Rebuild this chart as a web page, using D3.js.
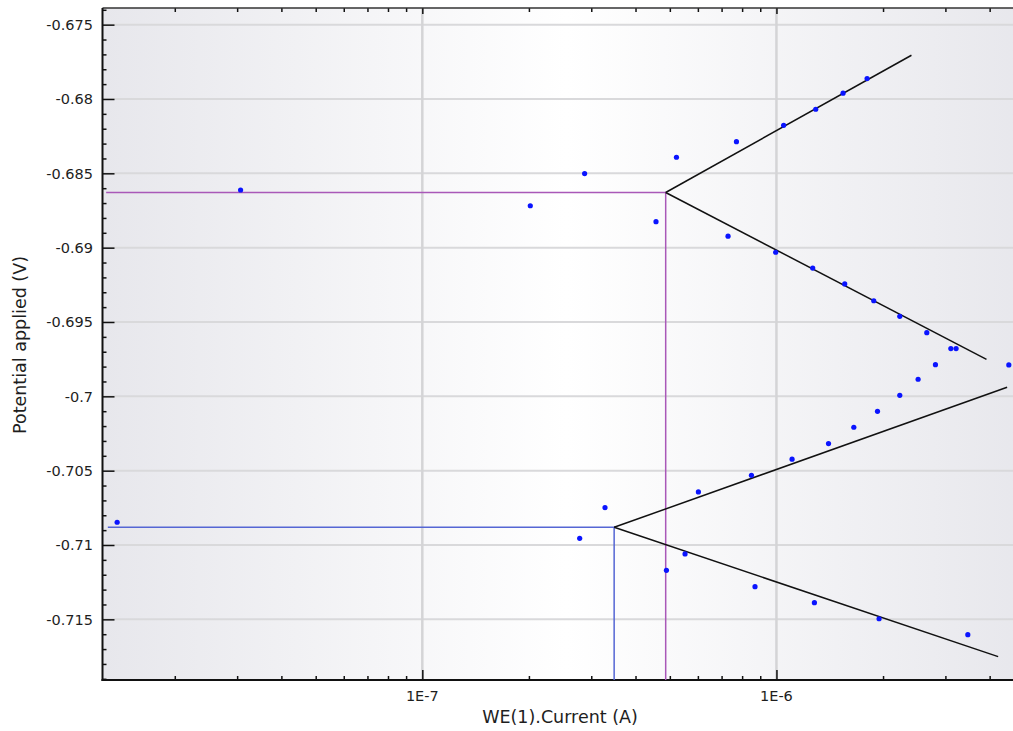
<!DOCTYPE html>
<html>
<head>
<meta charset="utf-8">
<script src="https://cdn.jsdelivr.net/npm/d3@7"></script>
<style>
  html, body { margin: 0; padding: 0; background: #ffffff; }
  svg { display: block; }
</style>
</head>
<body>
<svg id="chart" width="1013" height="731"></svg>
<script>
// ---------- data ----------
const currentA = [1.375e-8, 3.068e-8, 2.018e-7, 2.873e-7, 3.28e-7, 2.782e-7, 4.57e-7, 5.22e-7, 4.89e-7, 5.52e-7,
  6.02e-7, 7.71e-7, 7.30e-7, 8.70e-7, 9.95e-7, 8.50e-7, 1.048e-6, 1.107e-6, 1.266e-6, 1.291e-6,
  1.280e-6, 1.403e-6, 1.542e-6, 1.559e-6, 1.654e-6, 1.803e-6, 1.883e-6, 1.929e-6, 1.949e-6, 2.230e-6,
  2.230e-6, 2.512e-6, 2.658e-6, 2.812e-6, 3.108e-6, 3.216e-6, 3.471e-6, 4.531e-6];
const potentialV = [-0.70847, -0.68612, -0.68718, -0.68502, -0.70749, -0.70955, -0.68825, -0.68392, -0.71170, -0.71060,
  -0.70643, -0.68287, -0.68923, -0.71280, -0.69031, -0.70531, -0.68177, -0.70423, -0.69137, -0.68069,
  -0.71388, -0.70318, -0.67961, -0.69244, -0.70208, -0.67863, -0.69357, -0.70101, -0.71496, -0.69462,
  -0.69993, -0.69885, -0.69572, -0.69787, -0.69679, -0.69679, -0.71603, -0.69789];

// Tafel analysis 1 (purple) and 2 (blue): corrosion point [I, E], start of horizontal line, Tafel line ends
const corr1 = [4.867e-7, -0.68629];
const corr1StartI = 1.28e-8;
const tafel1AnodicEnd = [2.406e-6, -0.67706];
const tafel1CathodicEnd = [3.919e-6, -0.69751];

const corr2 = [3.481e-7, -0.70881];
const corr2StartI = 1.294e-8;
const tafel2AnodicEnd = [4.481e-6, -0.69939];
const tafel2CathodicEnd = [4.227e-6, -0.71751];

// axes
const xDomain = [1.25e-8, 5.2e-6];
const yDomain = [-0.71908, -0.67388];
const xMajorTicks = [1e-7, 1e-6];
const xMajorLabels = ["1E-7", "1E-6"];
const xMinorTicks = [2e-8, 3e-8, 4e-8, 5e-8, 6e-8, 7e-8, 8e-8, 9e-8,
  2e-7, 3e-7, 4e-7, 5e-7, 6e-7, 7e-7, 8e-7, 9e-7, 2e-6, 3e-6, 4e-6, 5e-6];
const yMajorTicks = [-0.675, -0.68, -0.685, -0.69, -0.695, -0.7, -0.705, -0.71, -0.715];
const yMajorLabels = ["-0.675", "-0.68", "-0.685", "-0.69", "-0.695", "-0.7", "-0.705", "-0.71", "-0.715"];
const yMinorTicks = [-0.719, -0.718, -0.717, -0.716, -0.714, -0.713, -0.712, -0.711, -0.709, -0.708, -0.707, -0.706,
  -0.704, -0.703, -0.702, -0.701, -0.699, -0.698, -0.697, -0.696, -0.694, -0.693, -0.692, -0.691,
  -0.689, -0.688, -0.687, -0.686, -0.684, -0.683, -0.682, -0.681, -0.679, -0.678, -0.677, -0.676, -0.674];

const xTitle = "WE(1).Current (A)";
const yTitle = "Potential applied (V)";

// ---------- layout ----------
const L = 102.5, T = 8, R = 1030, B = 680;
const svg = d3.select("#chart");
const x = d3.scaleLog().domain(xDomain).range([L, R]);
const y = d3.scaleLinear().domain(yDomain).range([B, T]);
const FONT = "'DejaVu Sans', Verdana, sans-serif";
const TXT = "#1e1e1e";

const defs = svg.append("defs");
const grad = defs.append("linearGradient").attr("id", "bg").attr("x1", "0%").attr("x2", "100%").attr("y1", "0%").attr("y2", "0%");
grad.append("stop").attr("offset", "0%").attr("stop-color", "#e7e7ec");
grad.append("stop").attr("offset", "50%").attr("stop-color", "#ffffff");
grad.append("stop").attr("offset", "100%").attr("stop-color", "#e7e7ec");
defs.append("clipPath").attr("id", "clip").append("rect")
  .attr("x", L).attr("y", T).attr("width", R - L).attr("height", B - T);

svg.append("rect").attr("x", L).attr("y", T).attr("width", R - L).attr("height", B - T).attr("fill", "url(#bg)");

// grid
const grid = svg.append("g").attr("clip-path", "url(#clip)");
grid.selectAll("line.hg").data(yMajorTicks).enter().append("line")
  .attr("x1", L).attr("x2", R).attr("y1", d => y(d)).attr("y2", d => y(d))
  .attr("stroke", "#d9d9db").attr("stroke-width", 2);
grid.selectAll("line.vg").data(xMajorTicks).enter().append("line")
  .attr("y1", T).attr("y2", B).attr("x1", d => x(d)).attr("x2", d => x(d))
  .attr("stroke", "#d4d4d6").attr("stroke-width", 2.5);

// axes with inward ticks
function styleAxis(g) {
  g.select(".domain").remove();
  g.selectAll("text").remove();
  g.selectAll(".tick line").attr("stroke", "#111").attr("stroke-width", 1.5);
}
svg.append("g").attr("transform", `translate(${L},0)`)
  .call(d3.axisLeft(y).tickValues(yMajorTicks).tickSize(-12)).call(styleAxis);
svg.append("g").attr("transform", `translate(${L},0)`)
  .call(d3.axisLeft(y).tickValues(yMinorTicks).tickSize(-4)).call(styleAxis);
svg.append("g").attr("transform", `translate(0,${B})`)
  .call(d3.axisBottom(x).tickValues(xMajorTicks).tickSize(-10)).call(styleAxis);
svg.append("g").attr("transform", `translate(0,${B})`)
  .call(d3.axisBottom(x).tickValues(xMinorTicks).tickSize(-4)).call(styleAxis);
svg.append("g").attr("transform", `translate(0,${T})`)
  .call(d3.axisTop(x).tickValues(xMajorTicks).tickSize(-6)).call(styleAxis);
svg.append("g").attr("transform", `translate(0,${T})`)
  .call(d3.axisTop(x).tickValues(xMinorTicks).tickSize(-4)).call(styleAxis);

// frame lines
svg.append("line").attr("x1", L).attr("x2", R).attr("y1", T).attr("y2", T).attr("stroke", "#333").attr("stroke-width", 1.5);
svg.append("line").attr("x1", L).attr("x2", L).attr("y1", T).attr("y2", B + 1).attr("stroke", "#111").attr("stroke-width", 2);
svg.append("line").attr("x1", L - 1).attr("x2", R).attr("y1", B).attr("y2", B).attr("stroke", "#111").attr("stroke-width", 2);

// tick labels
svg.append("g").selectAll("text").data(yMajorTicks).enter().append("text")
  .attr("x", 93).attr("y", d => y(d)).attr("dy", "0.36em")
  .attr("text-anchor", "end").attr("font-family", FONT).attr("font-size", 14.5).attr("fill", TXT)
  .text((d, i) => yMajorLabels[i]);
svg.append("g").selectAll("text").data(xMajorTicks).enter().append("text")
  .attr("x", d => x(d)).attr("y", 701)
  .attr("text-anchor", "middle").attr("font-family", FONT).attr("font-size", 14.5).attr("fill", TXT)
  .text((d, i) => xMajorLabels[i]);

// axis titles
svg.append("text").attr("x", 560).attr("y", 722.5).attr("text-anchor", "middle")
  .attr("font-family", FONT).attr("font-size", 17.5).attr("fill", TXT).text(xTitle);
svg.append("text").attr("transform", "translate(26,345) rotate(-90)").attr("text-anchor", "middle")
  .attr("font-family", FONT).attr("font-size", 17.5).attr("fill", TXT).text(yTitle);

// plot content
const plot = svg.append("g").attr("clip-path", "url(#clip)");
const line = d3.line().x(d => x(d[0])).y(d => y(d[1]));

// corrosion construction lines
plot.append("path").datum([[corr1StartI, corr1[1]], corr1, [corr1[0], yDomain[0]]])
  .attr("d", line).attr("fill", "none").attr("stroke", "#a958b8").attr("stroke-width", 1.5);
plot.append("path").datum([[corr2StartI, corr2[1]], corr2, [corr2[0], yDomain[0]]])
  .attr("d", line).attr("fill", "none").attr("stroke", "#5566d4").attr("stroke-width", 1.5);

// tafel lines
[[corr1, tafel1AnodicEnd], [corr1, tafel1CathodicEnd], [corr2, tafel2AnodicEnd], [corr2, tafel2CathodicEnd]]
  .forEach(seg => {
    plot.append("path").datum(seg).attr("d", line).attr("fill", "none")
      .attr("stroke", "#111").attr("stroke-width", 1.5);
  });

// data points
plot.selectAll("circle").data(currentA.map((c, i) => [c, potentialV[i]])).enter().append("circle")
  .attr("cx", d => x(d[0])).attr("cy", d => y(d[1])).attr("r", 2.6).attr("fill", "#0a14ff");
</script>
</body>
</html>
